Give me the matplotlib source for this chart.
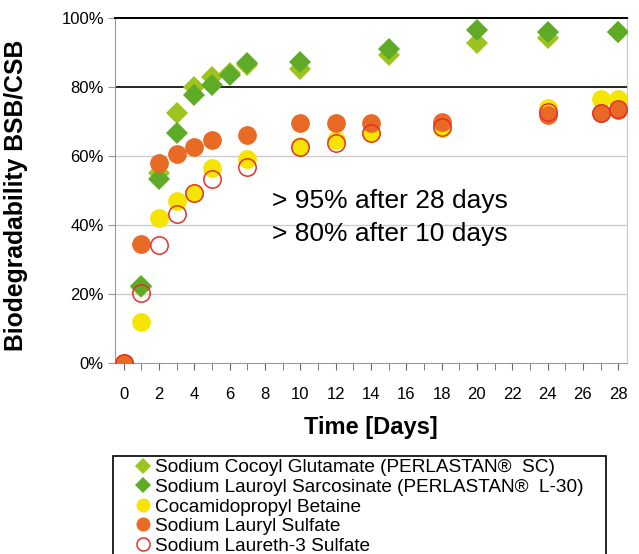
import matplotlib.pyplot as plt
from matplotlib.patches import Rectangle
import numpy as np

plt.rcParams['font.family'] = ['Liberation Sans', 'DejaVu Sans']

# days and biodegradability in %
days_glu = [1, 2, 3, 4, 5, 6, 7, 10, 15, 20, 24, 28]
glutamate = [22, 55, 72.5, 80, 82.8, 84, 86.4, 85.1, 89.3, 92.7, 94.1, 95.8]
days_sar = [1, 2, 3, 4, 5, 6, 7, 10, 15, 20, 24, 28]
sarcosinate = [22.3, 53.3, 66.6, 77.7, 80.6, 83.5, 86.9, 87.3, 91, 96.5, 95.8, 95.8]

days_surf = [0, 1, 2, 3, 4, 5, 7, 10, 12, 14, 18, 24, 27, 28]
betaine = [0, 12, 42, 47, 49.2, 56.4, 59, 63, 64.6, 66.6, 68, 73.8, 76.5, 76.5]
sls = [0, 34.5, 58, 60.6, 62.7, 64.6, 66.1, 69.5, 69.5, 69.5, 70, 71.9, 72.4, 73.3]
sles = [0, 20.2, 34.2, 43.2, 49.2, 53.3, 56.9, 62.7, 63.9, 66.6, 68.5, 72.8, 72.4, 73.5]

labels = ['Sodium Cocoyl Glutamate (PERLASTAN®  SC)',
          'Sodium Lauroyl Sarcosinate (PERLASTAN®  L-30)',
          'Cocamidopropyl Betaine',
          'Sodium Lauryl Sulfate',
          'Sodium Laureth-3 Sulfate']

c_light = '#9dc31e'
c_dark = '#5fab28'
c_yel = '#f5e500'
c_ora = '#e96a24'
c_red = '#e5302a'

W, H = 639, 554
fig = plt.figure(figsize=(W/100, H/100), dpi=100)
ax = fig.add_axes([115/W, 1-363/H, 512/W, 345/H])

h1, = ax.plot(days_glu, glutamate, 'D', color=c_light, ms=11, mew=0, zorder=3)
h2, = ax.plot(days_sar, sarcosinate, 'D', color=c_dark, ms=11, mew=0, zorder=4)
h3, = ax.plot(days_surf, betaine, 'o', color=c_yel, ms=13.5, mew=0, zorder=5)
h4, = ax.plot(days_surf, sls, 'o', color=c_ora, ms=13.5, mew=0, zorder=6)
h5, = ax.plot(days_surf, sles, 'o', mfc='none', mec=c_red, ms=12.5, mew=1.1, zorder=7)

ax.set_xlim(-0.5, 28.5)
ax.set_ylim(0, 100)

for v in [20, 40, 60]:
    ax.axhline(v, color='#cccccc', lw=1, zorder=1)
ax.axhline(80, color='black', lw=1.2, zorder=1)

ax.spines['top'].set_color('black')
ax.spines['top'].set_linewidth(1.4)
ax.spines['right'].set_color('#c8c8c8')
ax.spines['left'].set_color('#999999')
ax.spines['bottom'].set_color('#999999')

ax.set_yticks([0, 20, 40, 60, 80, 100])
ax.set_yticklabels(['0%', '20%', '40%', '60%', '80%', '100%'], fontsize=12)
ax.set_xticks(np.arange(0, 29, 2))
ax.set_xticklabels([str(d) for d in range(0, 29, 2)], fontsize=12)
ax.set_xticks(np.arange(0, 29, 1), minor=True)
ax.tick_params(axis='x', which='both', direction='out', length=5, color='#666666', pad=12)
ax.tick_params(axis='y', direction='out', length=5, color='#999999', pad=3)
for t in ax.yaxis.get_major_ticks()[4:]:
    t.tick1line.set_color('black')

ax.set_ylabel('Biodegradability BSB/CSB', fontsize=17.8, fontweight='bold')
ax.yaxis.set_label_coords(-0.17, 0.487)
ax.set_xlabel('Time [Days]', fontsize=17, fontweight='bold', va='center')
ax.xaxis.set_label_coords(0.5, -0.188)

ax.text(8.4, 47, '> 95% after 28 days', fontsize=19, va='center')
ax.text(8.4, 37.4, '> 80% after 10 days', fontsize=19, va='center')

# legend box (bottom edge runs off the figure)
fig.patches.append(Rectangle((113/W, -0.05), 493/W, 1-456/H + 0.05,
                             transform=fig.transFigure, fill=False,
                             edgecolor='black', lw=1.2))
leg = fig.legend([h1, h2, h3, h4, h5], labels,
                 loc='upper left', bbox_to_anchor=(135/W, 1-459/H),
                 borderaxespad=0, fontsize=13.7, frameon=False,
                 handlelength=0.8, handletextpad=0.25, labelspacing=0.12,
                 borderpad=0.0, markerscale=0.75)

fig.savefig('out.png', dpi=100)
